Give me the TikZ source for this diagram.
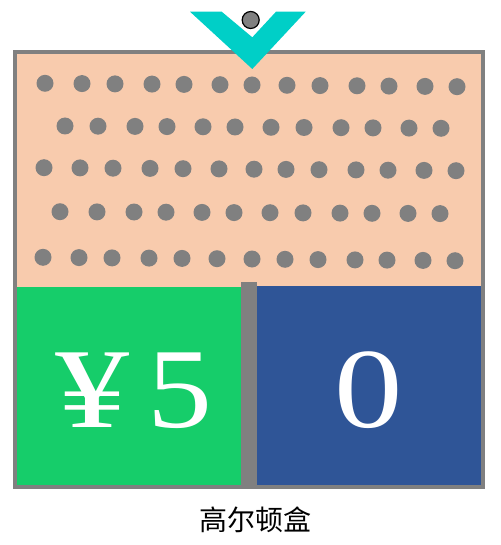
\documentclass[tikz,border=0pt]{standalone}
\usepackage{fontspec}
\setmainfont{Liberation Serif}
\newfontfamily\cjkfont{Noto Sans CJK SC}
\definecolor{peach}{HTML}{F8CBAD}
\definecolor{framegray}{HTML}{808080}
\definecolor{boxgreen}{HTML}{16CD6A}
\definecolor{boxblue}{HTML}{2F5597}
\definecolor{funnelteal}{HTML}{00CFC7}
\begin{document}
\begin{tikzpicture}[x=1pt,y=-1pt,
  pin/.style={circle,fill=framegray,inner sep=0pt,minimum size=17pt},
  bin/.style={inner sep=0pt,outer sep=0pt,anchor=north west},
  bigtext/.style={text=white,font=\fontsize{114}{114}\selectfont,anchor=base,inner sep=0pt},
  framestyle/.style={draw=framegray,line width=4pt}]
\useasboundingbox (0,0) rectangle (500,545);
% board
\fill[peach] (15,52) rectangle (483,487);
% bins
\node[bin,fill=boxgreen,minimum width=224.5pt,minimum height=199pt] (left) at (17,286.5) {};
\node[bin,fill=boxblue,minimum width=224.5pt,minimum height=199.5pt] (right) at (257,285.5) {};
\node[bin,fill=framegray,minimum width=16pt,minimum height=203pt] (divider) at (241,282) {};
\draw[framestyle] (15,52) rectangle (483,487);
\node[bigtext] (lefttext) at (134,427) {\scalebox{1.3}[1]{¥}\hspace{17pt}\scalebox{1.14}[1]{5}};
\node[bigtext] (righttext) at (369,427) {\scalebox{1.2}[1]{0}};
% pins
\foreach \px/\py in {45/83.3,82/83.6,115/83.9,152/84.1,184/84.4,220/84.7,252/85,287/85.3,320/85.6,357/85.8,389/86.1,425/86.4,457/86.7}
  \node[pin] at (\px,\py) {};
\foreach \px/\py in {65/126,98/126.2,135/126.4,167/126.6,203/126.8,235/127,271/127.3,304/127.5,341/127.7,373/127.9,409/128.1,441/128.3}
  \node[pin] at (\px,\py) {};
\foreach \px/\py in {44/167.7,80/167.9,113/168.2,150/168.4,183/168.7,219/168.9,254/169.2,286/169.4,319/169.7,356/169.9,388/170.2,424/170.4,456/170.7}
  \node[pin] at (\px,\py) {};
\foreach \px/\py in {60/211.7,97/211.9,134/212,166/212.2,202/212.4,234/212.6,270/212.7,303/212.9,340/213.1,372/213.3,408/213.4,440/213.6}
  \node[pin] at (\px,\py) {};
\foreach \px/\py in {43/257.3,79/257.6,112/257.9,149/258.1,182/258.4,217/258.7,252/259,285/259.3,318/259.6,355/259.9,387/260.1,423/260.4,455/260.7}
  \node[pin] at (\px,\py) {};
% funnel
\fill[funnelteal] (190,11.7) -- (221.7,11.7) -- (252.3,37.3) -- (276,11.7) -- (305.7,11.7) -- (252.3,69) -- cycle;
\node[circle,fill=framegray,draw=black,line width=1.2pt,inner sep=0pt,minimum size=17pt] (ball) at (250.7,20) {};
% caption
\node[font=\cjkfont\fontsize{28}{28}\selectfont,inner sep=0pt] (caption) at (255,520) {高尔顿盒};
\end{tikzpicture}
\end{document}
